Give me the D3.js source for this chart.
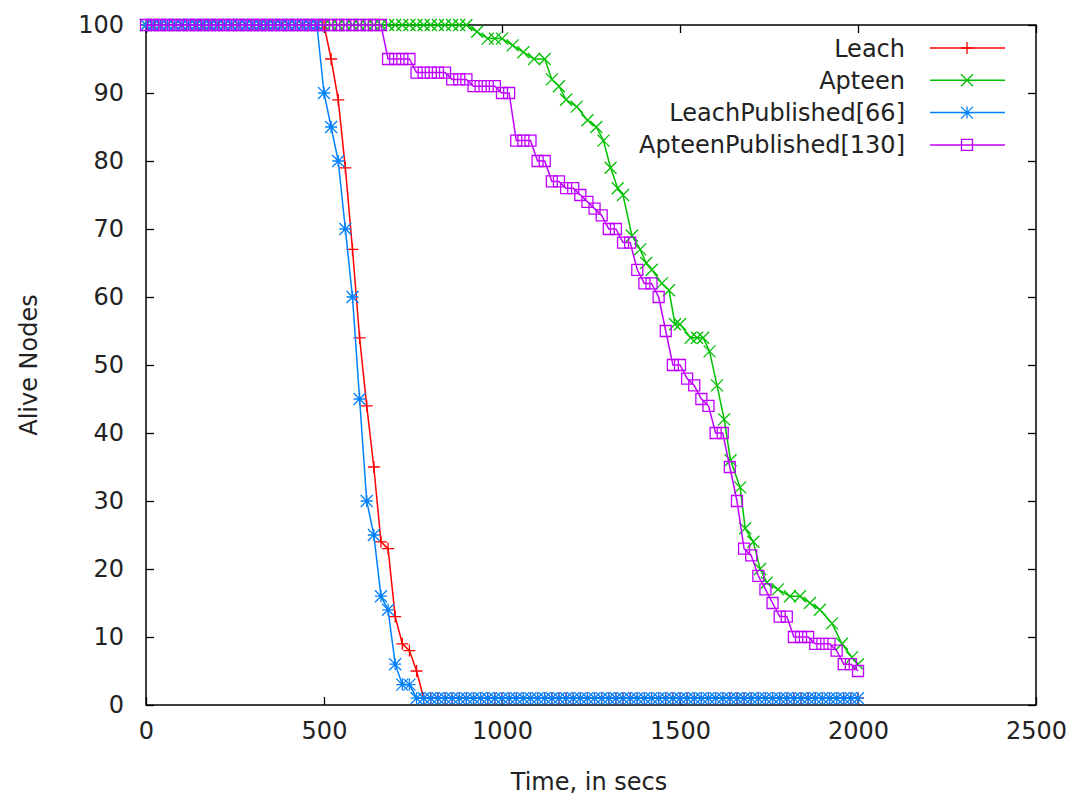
<!DOCTYPE html>
<html>
<head>
<meta charset="utf-8">
<script src="https://cdn.jsdelivr.net/npm/d3@7"></script>
<style>
  body { margin: 0; background: #fff; }
  text { font-family: "DejaVu Sans", sans-serif; fill: #222; }
</style>
</head>
<body>
<div id="chart"></div>
<script>
// time grid (secs) shared by Leach, LeachPublished and ApteenPublished
var timeGrid = [0,20,40,60,80,100,120,140,160,180,200,220,240,260,280,300,320,340,360,380,
  400,420,440,460,480,500,520,540,560,580,600,620,640,660,680,700,720,740,760,780,
  800,820,840,860,880,900,920,940,960,980,1000,1020,1040,1060,1080,1100,1120,1140,1160,1180,
  1200,1220,1240,1260,1280,1300,1320,1340,1360,1380,1400,1420,1440,1460,1480,1500,1520,1540,1560,1580,
  1600,1620,1640,1660,1680,1700,1720,1740,1760,1780,1800,1820,1840,1860,1880,1900,1920,1940,1960,1980,2000];

var leachAlive = [100,100,100,100,100,100,100,100,100,100,100,100,100,100,100,100,100,100,100,100,
  100,100,100,100,100,100,95,89,79,67,54,44,35,24,23,13,9,8,5,1,
  1,1,1,1,1,1,1,1,1,1,1,1,1,1,1,1,1,1,1,1,
  1,1,1,1,1,1,1,1,1,1,1,1,1,1,1,1,1,1,1,1,
  1,1,1,1,1,1,1,1,1,1,1,1,1,1,1,1,1,1,1,1,1];

var leachPubAlive = [100,100,100,100,100,100,100,100,100,100,100,100,100,100,100,100,100,100,100,100,
  100,100,100,100,100,90,85,80,70,60,45,30,25,16,14,6,3,3,1,1,
  1,1,1,1,1,1,1,1,1,1,1,1,1,1,1,1,1,1,1,1,
  1,1,1,1,1,1,1,1,1,1,1,1,1,1,1,1,1,1,1,1,
  1,1,1,1,1,1,1,1,1,1,1,1,1,1,1,1,1,1,1,1,1];

var apteenPubAlive = [100,100,100,100,100,100,100,100,100,100,100,100,100,100,100,100,100,100,100,100,
  100,100,100,100,100,100,100,100,100,100,100,100,100,100,95,95,95,95,93,93,
  93,93,93,92,92,92,91,91,91,91,90,90,83,83,83,80,80,77,77,76,
  76,75,74,73,72,70,70,68,68,64,62,62,60,55,50,50,48,47,45,44,
  40,40,35,30,23,22,19,17,15,13,13,10,10,10,9,9,9,8,6,6,5];

// Apteen was sampled on its own times
var apteenTime = [0,20,40,60,80,100,120,140,160,180,200,220,240,260,280,300,320,340,360,380,
  400,420,440,460,480,500,520,540,560,580,600,620,640,660,680,700,720,740,760,780,
  800,820,840,860,880,900,
  930,960,980,1000,1030,1060,1090,1120,1140,1160,1180,1210,1240,1265,1285,1305,1325,1340,1365,1388,
  1405,1421,1449,1469,1486,1500,1530,1548,1565,1583,1604,1624,1642,1669,1683,1706,1725,1744,1775,1809,
  1837,1865,1893,1927,1955,1983,2000];
var apteenAlive = [100,100,100,100,100,100,100,100,100,100,100,100,100,100,100,100,100,100,100,100,
  100,100,100,100,100,100,100,100,100,100,100,100,100,100,100,100,100,100,100,100,
  100,100,100,100,100,100,
  99,98,98,98,97,96,95,95,92,91,89,88,86,85,83,79,76,75,69,67,
  65,64,62,61,56,56,54,54,54,52,47,42,36,32,26,24,20,18,17,16,
  16,15,14,12,9,7,6];

var seriesNames = ['Leach', 'Apteen', 'LeachPublished[66]', 'ApteenPublished[130]'];
var xTicks = [0, 500, 1000, 1500, 2000, 2500];
var yTicks = [0, 10, 20, 30, 40, 50, 60, 70, 80, 90, 100];

var svgWidth = 1069;
var svgHeight = 796;
var margin = {top: 25, right: 33, bottom: 91, left: 146};

var svg = d3.select('#chart')
    .append('svg')
    .attr('width', svgWidth)
    .attr('height', svgHeight);

svg.append('rect').attr('width', svgWidth).attr('height', svgHeight).attr('fill', '#fff');

var x = d3.scaleLinear().domain([0, 2500]).range([margin.left, svgWidth - margin.right]);
var y = d3.scaleLinear().domain([0, 100]).range([svgHeight - margin.bottom, margin.top]);

// axes, ticks pointing inward on all four sides
var axisStyle = function(g) {
    g.select('.domain').remove();
    g.selectAll('line').attr('stroke', '#000').attr('stroke-width', 1.3);
    g.selectAll('text').style('font-size', '24px').attr('fill', '#222');
};

svg.append('g')
    .attr('transform', `translate(0,${y(0)})`)
    .call(d3.axisBottom(x).tickValues(xTicks).tickFormat(d3.format('d'))
        .tickSizeInner(-8).tickSizeOuter(0).tickPadding(17))
    .call(axisStyle);

svg.append('g')
    .attr('transform', `translate(0,${y(100)})`)
    .call(d3.axisTop(x).tickValues(xTicks).tickSizeInner(-8).tickSizeOuter(0).tickFormat(''))
    .call(axisStyle);

svg.append('g')
    .attr('transform', `translate(${x(0)},0)`)
    .call(d3.axisLeft(y).tickValues(yTicks).tickSizeInner(-8).tickSizeOuter(0).tickPadding(22))
    .call(axisStyle);

svg.append('g')
    .attr('transform', `translate(${x(2500)},0)`)
    .call(d3.axisRight(y).tickValues(yTicks).tickSizeInner(-8).tickSizeOuter(0).tickFormat(''))
    .call(axisStyle);

svg.append('rect')
    .attr('x', x(0)).attr('y', y(100))
    .attr('width', x(2500) - x(0)).attr('height', y(0) - y(100))
    .attr('fill', 'none').attr('stroke', '#000').attr('stroke-width', 1.5);

// axis titles
svg.append('text')
    .attr('x', (x(0) + x(2500)) / 2 - 2)
    .attr('y', 790)
    .attr('text-anchor', 'middle')
    .style('font-size', '24px')
    .text('Time, in secs');

svg.append('text')
    .attr('transform', `translate(37,${(y(0) + y(100)) / 2}) rotate(-90)`)
    .attr('text-anchor', 'middle')
    .style('font-size', '24px')
    .text('Alive Nodes');

// gnuplot style point shapes
function marker(type) {
    var h = 6, s = 5.5;
    if (type === 'plus') return `M${-h},0H${h}M0,${-h}V${h}`;
    if (type === 'times') return `M${-h},${-h}L${h},${h}M${-h},${h}L${h},${-h}`;
    if (type === 'star') return `M${-h},0H${h}M0,${-h}V${h}M${-h},${-h}L${h},${h}M${-h},${h}L${h},${-h}`;
    return `M${-s},${-s}H${s}V${s}H${-s}Z`;
}

var series = [
    {name: seriesNames[0], color: '#ff0000', shape: 'plus',
     pts: timeGrid.map((t, i) => [t, leachAlive[i]])},
    {name: seriesNames[1], color: '#00c000', shape: 'times',
     pts: apteenTime.map((t, i) => [t, apteenAlive[i]])},
    {name: seriesNames[2], color: '#0080ff', shape: 'star',
     pts: timeGrid.map((t, i) => [t, leachPubAlive[i]])},
    {name: seriesNames[3], color: '#c000ff', shape: 'box',
     pts: timeGrid.map((t, i) => [t, apteenPubAlive[i]])}
];

var line = d3.line().x(d => x(d[0])).y(d => y(d[1]));

series.forEach(function(s) {
    var g = svg.append('g');
    g.append('path')
        .attr('d', line(s.pts))
        .attr('fill', 'none')
        .attr('stroke', s.color)
        .attr('stroke-width', 1.5);
    g.selectAll('path.pt')
        .data(s.pts)
        .enter()
        .append('path')
        .attr('class', 'pt')
        .attr('transform', d => `translate(${x(d[0])},${y(d[1])})`)
        .attr('d', marker(s.shape))
        .attr('fill', 'none')
        .attr('stroke', s.color)
        .attr('stroke-width', 1.3);
});

// legend (top right, gnuplot style)
var legend = svg.append('g');
series.forEach(function(s, i) {
    var ly = 48 + i * 32.3;
    legend.append('text')
        .attr('x', 905).attr('y', ly + 8.5)
        .attr('text-anchor', 'end')
        .style('font-size', '24px')
        .text(s.name);
    legend.append('line')
        .attr('x1', 930).attr('x2', 1005)
        .attr('y1', ly).attr('y2', ly)
        .attr('stroke', s.color).attr('stroke-width', 1.5);
    legend.append('path')
        .attr('transform', `translate(967,${ly})`)
        .attr('d', marker(s.shape))
        .attr('fill', 'none')
        .attr('stroke', s.color)
        .attr('stroke-width', 1.3);
});
</script>
</body>
</html>
